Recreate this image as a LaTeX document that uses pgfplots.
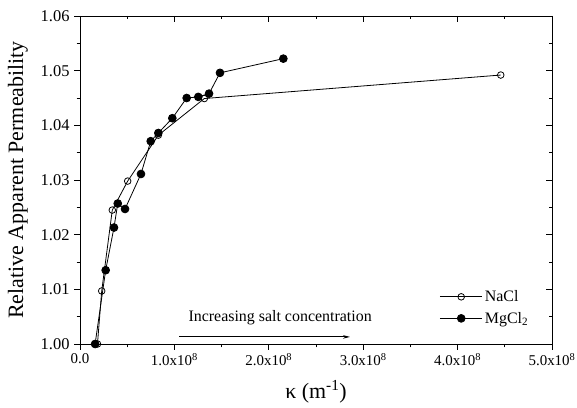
\documentclass[border=0pt]{standalone}
\usepackage{pgfplots}
\pgfplotsset{compat=1.18}
\usepackage{fontspec}
\setmainfont{Liberation Serif}
\usetikzlibrary{arrows.meta}

\begin{document}
\begin{tikzpicture}
\pgfplotsset{
  base/.style={
    scale only axis, width=472bp, height=328bp,
    xmin=0, xmax=5e8, ymin=1.00, ymax=1.06,
    xtick={0,1e8,2e8,3e8,4e8,5e8},
    minor xtick={0.5e8,1.5e8,2.5e8,3.5e8,4.5e8},
    ytick={1.00,1.01,1.02,1.03,1.04,1.05,1.06},
    minor ytick={1.005,1.015,1.025,1.035,1.045,1.055},
    major tick length=6bp, minor tick length=3.5bp,
    every tick/.style={black, line width=0.8pt},
    axis line style={line width=0.9pt},
    scaled x ticks=false,
  }
}
% ticks on top and right, pointing in
\begin{axis}[base, tick align=inside, xtick pos=top, ytick pos=right,
  xticklabels={}, yticklabels={}, axis lines=box]
\end{axis}
\begin{axis}[base, tick align=outside, xtick pos=bottom, ytick pos=left,
  xticklabel style={font=\fontsize{15}{17}\selectfont},
  yticklabel style={font=\fontsize{16.5}{18}\selectfont, xshift=-1bp,
    /pgf/number format/.cd, fixed, fixed zerofill, precision=2},
  /pgf/number format/assume math mode=true,
  xticklabels={0.0, 1.0x10\textsuperscript{8}, 2.0x10\textsuperscript{8}, 3.0x10\textsuperscript{8}, 4.0x10\textsuperscript{8}, 5.0x10\textsuperscript{8}},
  xlabel={κ (m\textsuperscript{-1})},
  ylabel={Relative Apparent Permeability},
  label style={font=\fontsize{22}{25}\selectfont},
  ylabel style={yshift=6bp},
  xlabel style={yshift=-8bp},
  legend style={draw=none, fill=none, at={(0.755,0.111)}, anchor=west,
    font=\fontsize{16}{18}\selectfont, row sep=5bp, cells={anchor=west}},
  legend image code/.code={
    \draw[line width=0.8pt] (0cm,0cm) -- (1.5cm,0cm);
    \draw[#1, line width=0.8pt] plot coordinates {(0.75cm,0cm)};},
  clip=false]
\coordinate (bl) at (rel axis cs:0,0);
\coordinate (tr) at (rel axis cs:1,1);
\addplot[black, line width=0.8pt, mark=o, mark size=3.3bp,
  mark options={fill=white, line width=0.8pt}] coordinates {
  (0.185e8,1.0000) (0.23e8,1.0097) (0.342e8,1.0245) (0.505e8,1.0298)
  (0.83e8,1.0382) (1.317e8,1.0449) (4.457e8,1.0492)};
\addlegendentry{NaCl}
\addplot[black, line width=0.8pt, mark=*, mark size=3.9bp] coordinates {
  (0.16e8,1.0000) (0.272e8,1.0135) (0.36e8,1.0213) (0.40e8,1.0257)
  (0.477e8,1.0247) (0.646e8,1.0311) (0.749e8,1.0371) (0.83e8,1.0386)
  (0.978e8,1.0413) (1.13e8,1.0450) (1.253e8,1.0452) (1.367e8,1.0458)
  (1.483e8,1.0496) (2.154e8,1.0522)};
\addlegendentry{MgCl\textsubscript{2}}
\draw[-{Stealth[length=7bp,width=3.5bp]}, line width=0.8pt]
  (axis cs:1.05e8,1.0013) -- (axis cs:2.86e8,1.0013);
\node[font=\fontsize{16}{18}\selectfont] at (axis cs:2.12e8,1.0048)
  {Increasing salt concentration};
\end{axis}
\pgfresetboundingbox
\path ([shift={(-80bp,-64bp)}]bl) rectangle ([shift={(25bp,16bp)}]tr);
\end{tikzpicture}
\end{document}
